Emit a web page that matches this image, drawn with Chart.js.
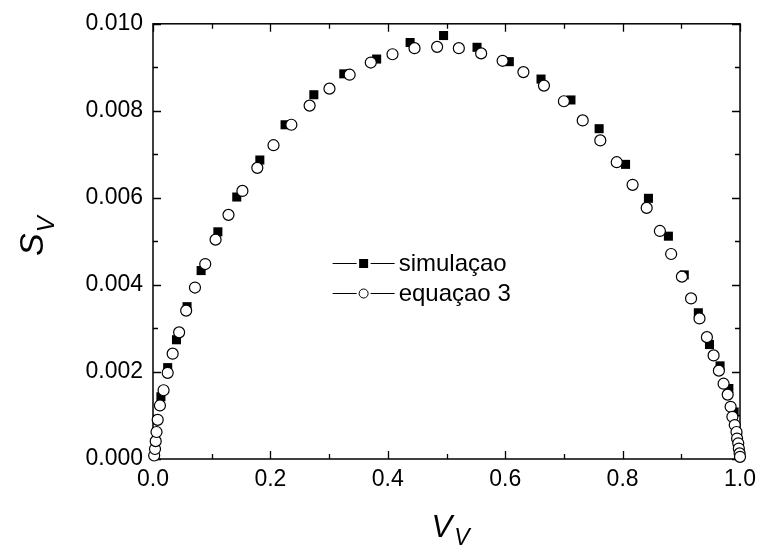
<!DOCTYPE html>
<html>
<head>
<meta charset="utf-8">
<script src="https://cdn.jsdelivr.net/npm/chart.js@4/dist/chart.umd.min.js"></script>
<style>
  html, body { margin: 0; padding: 0; background: #fff; }
  #chart_area { display: block; }
</style>
</head>
<body>
<canvas id="chart_area" width="763" height="547"></canvas>
<script>
'use strict';

//Data - simulacao (filled squares)
var simV = [0.0135, 0.025, 0.040, 0.058, 0.082, 0.1105, 0.1427, 0.182, 0.225, 0.274, 0.325, 0.381, 0.438,
            0.495, 0.552, 0.607, 0.661, 0.712, 0.760, 0.805, 0.844, 0.878, 0.905, 0.929, 0.948, 0.966, 0.981, 0.990, 0.996];
var simS = [0.00143, 0.00210, 0.00274, 0.00350, 0.00433, 0.00522, 0.00602, 0.00687, 0.00768, 0.00837, 0.00885, 0.00919, 0.00957,
            0.00973, 0.00946, 0.00913, 0.00873, 0.00825, 0.00759, 0.00677, 0.00599, 0.00512, 0.00423, 0.00336, 0.00263, 0.00214, 0.00162, 0.00108, 0.00050];

//Data - equacao 3 (open circles)
var eqV = [0.002, 0.0034, 0.0046, 0.006, 0.008, 0.0118, 0.018, 0.025, 0.0335, 0.0445, 0.0565, 0.0715, 0.089,
           0.1066, 0.1286, 0.1523, 0.1777, 0.2053, 0.2357, 0.2668, 0.3006, 0.335, 0.371, 0.408, 0.4455, 0.484,
           0.521, 0.559, 0.5956, 0.631, 0.666, 0.700, 0.732, 0.762, 0.790, 0.817, 0.841, 0.8635, 0.8827, 0.901,
           0.9166, 0.931, 0.9436, 0.955, 0.964, 0.972, 0.979, 0.984, 0.987, 0.991, 0.994, 0.995, 0.997, 0.998, 0.9993, 1.0];
var eqS = [0.00008, 0.00023, 0.00041, 0.00062, 0.00090, 0.00123, 0.00158, 0.00198, 0.00242, 0.00291, 0.00341, 0.00394, 0.00448,
           0.00504, 0.00561, 0.00616, 0.00669, 0.00721, 0.00768, 0.00812, 0.00851, 0.00883, 0.00911, 0.00930, 0.00944, 0.00947,
           0.00944, 0.00932, 0.00915, 0.00889, 0.00858, 0.00822, 0.00778, 0.00732, 0.00682, 0.00630, 0.00577, 0.00524, 0.00471, 0.00419,
           0.00369, 0.00323, 0.00280, 0.00238, 0.00203, 0.00173, 0.00148, 0.00120, 0.00097, 0.00078, 0.00062, 0.00047, 0.00036, 0.00024, 0.00013, 0.00005];

//Ticks
var xTicks = [0.0, 0.2, 0.4, 0.6, 0.8, 1.0];
var xMinor = [0.1, 0.3, 0.5, 0.7, 0.9];
var yTicks = [0.000, 0.002, 0.004, 0.006, 0.008, 0.010];
var yMinor = [0.001, 0.003, 0.005, 0.007, 0.009];

var legendLabels = ['simulaçao', 'equaçao 3'];

var FONT = '"Liberation Sans", Arial, sans-serif';

function toPoints(xs, ys){
    var out = [];
    for (var i = 0; i < xs.length; i++) out.push({x: xs[i], y: ys[i]});
    return out;
}

//Frame + inward ticks on all four sides
var framePlugin = {
    id: 'frame',
    beforeDatasetsDraw: function(chart){
        var ctx = chart.ctx, a = chart.chartArea;
        var xs = chart.scales.x, ys = chart.scales.y;
        ctx.save();
        ctx.strokeStyle = '#000';
        ctx.lineWidth = 1.5;
        ctx.strokeRect(a.left, a.top, a.right - a.left, a.bottom - a.top);
        ctx.lineWidth = 1.3;
        ctx.beginPath();
        function xt(v, len){
            var p = Math.round(xs.getPixelForValue(v)) + 0.5;
            ctx.moveTo(p, a.bottom); ctx.lineTo(p, a.bottom - len);
            ctx.moveTo(p, a.top); ctx.lineTo(p, a.top + len);
        }
        function yt(v, len){
            var p = Math.round(ys.getPixelForValue(v)) + 0.5;
            ctx.moveTo(a.left, p); ctx.lineTo(a.left + len, p);
            ctx.moveTo(a.right, p); ctx.lineTo(a.right - len, p);
        }
        xTicks.forEach(function(v){ xt(v, 8); });
        xMinor.forEach(function(v){ xt(v, 5); });
        yTicks.forEach(function(v){ yt(v, 8); });
        yMinor.forEach(function(v){ yt(v, 5); });
        ctx.stroke();
        ctx.restore();
    }
};

//Axis titles with subscripts
var titlePlugin = {
    id: 'titles',
    afterDraw: function(chart){
        var ctx = chart.ctx, a = chart.chartArea;
        ctx.save();
        ctx.fillStyle = '#000';
        ctx.textBaseline = 'alphabetic';
        ctx.textAlign = 'left';

        //x title V_V
        ctx.font = 'italic 31px ' + FONT;
        var w = ctx.measureText('V').width;
        var x0 = (a.left + a.right) / 2 - 15;
        ctx.fillText('V', x0, 537);
        ctx.font = 'italic 23px ' + FONT;
        ctx.fillText('V', x0 + w + 2, 545);

        //y title S_V (rotated)
        ctx.translate(43, 256);
        ctx.rotate(-Math.PI / 2);
        ctx.font = 'italic 34px ' + FONT;
        var ws = ctx.measureText('S').width;
        ctx.fillText('S', 0, 0);
        ctx.font = 'italic 24px ' + FONT;
        ctx.fillText('V', ws + 1, 11);
        ctx.restore();
    }
};

//Legend inside plot
var legendPlugin = {
    id: 'innerLegend',
    afterDraw: function(chart){
        var ctx = chart.ctx;
        var xs = chart.scales.x, ys = chart.scales.y;
        var lx = xs.getPixelForValue(0.306);
        var rows = [ys.getPixelForValue(0.00450), ys.getPixelForValue(0.00381)];
        ctx.save();
        ctx.strokeStyle = '#000';
        ctx.lineWidth = 1;
        ctx.font = '24px ' + FONT;
        ctx.textBaseline = 'middle';
        ctx.fillStyle = '#000';
        for (var i = 0; i < 2; i++){
            var y = Math.round(rows[i]) + 0.5;
            ctx.beginPath();
            ctx.moveTo(lx, y); ctx.lineTo(lx + 24, y);
            ctx.moveTo(lx + 38, y); ctx.lineTo(lx + 62, y);
            ctx.stroke();
            var mx = lx + 31;
            if (i === 0){
                ctx.fillRect(mx - 4.5, y - 4.5, 9, 9);
            } else {
                ctx.beginPath();
                ctx.arc(mx, y, 4.5, 0, Math.PI * 2);
                ctx.fillStyle = '#fff';
                ctx.fill();
                ctx.stroke();
                ctx.fillStyle = '#000';
            }
            ctx.fillText(legendLabels[i], lx + 66, y + 1);
        }
        ctx.restore();
    }
};

var config = {
    type: 'scatter',
    data: {
        datasets: [
            {
                label: legendLabels[1],
                data: toPoints(eqV, eqS),
                pointStyle: 'circle',
                pointRadius: 5.5,
                pointBackgroundColor: '#fff',
                pointBorderColor: '#000',
                pointBorderWidth: 1.2,
                order: 0,
                clip: false
            },
            {
                label: legendLabels[0],
                data: toPoints(simV, simS),
                pointStyle: 'rect',
                pointRadius: 6.4,
                pointBackgroundColor: '#000',
                pointBorderColor: '#000',
                pointBorderWidth: 0,
                order: 1,
                clip: false
            }
        ]
    },
    options: {
        responsive: false,
        animation: false,
        layout: { padding: { left: 0, top: 22, right: 22, bottom: 0 } },
        plugins: {
            legend: { display: false },
            tooltip: { enabled: false }
        },
        scales: {
            x: {
                type: 'linear',
                min: 0, max: 1,
                grid: { display: false, drawTicks: false },
                border: { display: false },
                afterBuildTicks: function(scale){
                    scale.ticks = xTicks.map(function(v){ return {value: v}; });
                },
                afterFit: function(scale){ scale.height = 88; },
                ticks: {
                    padding: 7,
                    color: '#000',
                    font: { family: FONT, size: 23 },
                    maxRotation: 0,
                    callback: function(v){ return Number(v).toFixed(1); }
                }
            },
            y: {
                type: 'linear',
                min: 0, max: 0.010,
                grid: { display: false, drawTicks: false },
                border: { display: false },
                afterBuildTicks: function(scale){
                    scale.ticks = yTicks.map(function(v){ return {value: v}; });
                },
                afterFit: function(scale){ scale.width = 153; },
                ticks: {
                    padding: 10,
                    color: '#000',
                    font: { family: FONT, size: 23 },
                    callback: function(v){ return Number(v).toFixed(3); }
                }
            }
        }
    },
    plugins: [framePlugin, titlePlugin, legendPlugin]
};

var ctx = document.getElementById('chart_area').getContext('2d');
window.myChart = new Chart(ctx, config);
</script>
</body>
</html>
